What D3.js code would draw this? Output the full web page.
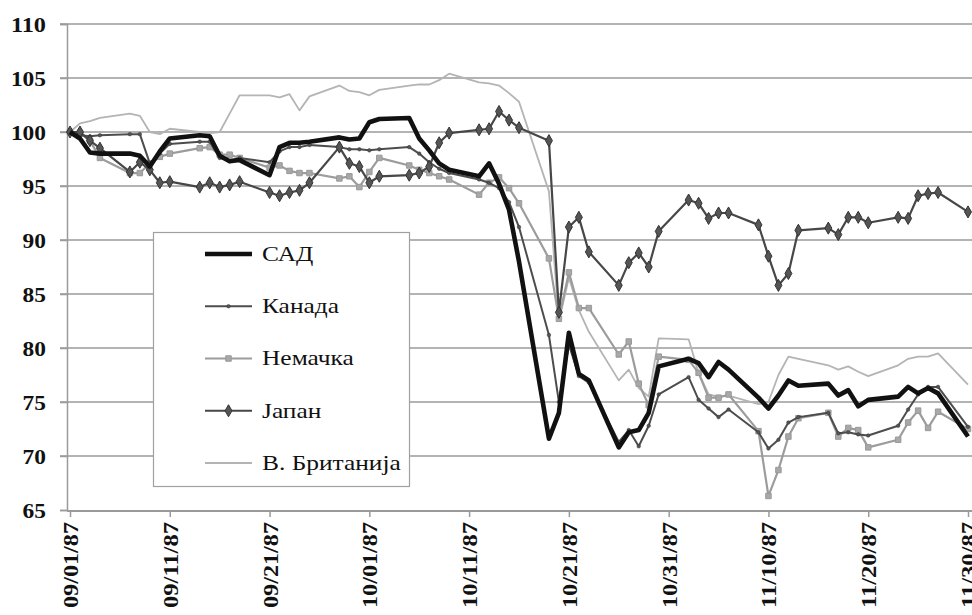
<!DOCTYPE html>
<html>
<head>
<meta charset="utf-8">
<script src="https://cdn.jsdelivr.net/npm/d3@7"></script>
<style>
  html, body { margin: 0; padding: 0; background: #fff; }
  svg { display: block; }
</style>
</head>
<body>
<svg id="chart" width="972" height="615"></svg>
<script>
// Trading days, Sept–Nov 1987
const dates = [
  "09/01","09/02","09/03","09/04","09/07","09/08","09/09","09/10","09/11",
  "09/14","09/15","09/16","09/17","09/18","09/21","09/22","09/23","09/24","09/25",
  "09/28","09/29","09/30",
  "10/01","10/02","10/05","10/06","10/07","10/08","10/09","10/12","10/13","10/14",
  "10/15","10/16","10/19","10/20","10/21","10/22","10/23","10/26","10/27","10/28",
  "10/29","10/30",
  "11/02","11/03","11/04","11/05","11/06","11/09","11/10","11/11","11/12","11/13",
  "11/16","11/17","11/18","11/19","11/20","11/23","11/24","11/25","11/26","11/27","11/30"
];

// Index values (09/01/87 = 100)
const usa = [
  100.0, 99.4, 98.1, 98.0, 98.0, 97.8, 96.8, 98.2, 99.4, 99.7, 99.6, 97.8, 97.3, 97.4, 96.0, 98.6, 99.0, 99.0, 99.1, 99.5, 99.3, 99.4,
  100.9, 101.2, 101.3, 99.4, 98.3, 97.1, 96.5, 95.9, 97.1, 95.2, 92.8, 88.0, 71.6, 74.0, 81.4, 77.6, 77.0, 70.8, 72.2, 72.4, 74.0, 78.3,
  79.0, 78.6, 77.3, 78.7, 78.0, 75.4, 74.4, 75.6, 77.0, 76.5, 76.7, 75.6, 76.1, 74.6, 75.2, 75.5, 76.4, 75.8, 76.3, 75.8, 71.8
];
const canada = [
  100.0, 99.7, 99.6, 99.7, 99.8, 99.8, 97.1, 98.0, 98.9, 99.1, 99.1, 97.6, 97.3, 97.6, 97.2, 98.2, 98.6, 98.6, 98.8, 98.6, 98.4, 98.4,
  98.3, 98.4, 98.6, 98.0, 97.2, 96.6, 96.2, 95.6, 95.3, 94.8, 93.5, 91.2, 81.2, 75.0, 80.3, 77.4, 76.8, 71.3, 72.4, 70.9, 72.8, 75.7,
  77.3, 75.2, 74.4, 73.6, 74.3, 72.2, 70.7, 71.5, 73.1, 73.6, 74.0, 72.1, 72.2, 72.0, 71.9, 72.8, 74.3, 75.7, 76.4, 76.4, 72.7
];
const germany = [
  100.0, 99.9, 99.2, 97.6, 96.2, 96.2, 97.1, 97.7, 98.0, 98.5, 98.6, 97.9, 97.9, 97.6, 96.7, 96.9, 96.4, 96.2, 96.2, 95.7, 95.9, 94.9,
  96.3, 97.6, 96.9, 96.5, 96.2, 95.9, 95.6, 94.2, 95.3, 95.8, 94.8, 93.4, 88.3, 82.7, 87.0, 83.7, 83.7, 79.4, 80.6, 76.7, 74.7, 79.2,
  78.9, 77.7, 75.4, 75.4, 75.7, 72.3, 66.3, 68.7, 71.8, 73.5, 74.0, 71.8, 72.6, 72.4, 70.8, 71.5, 73.1, 74.2, 72.6, 74.1, 72.5
];
const japan = [
  100.0, 100.0, 99.2, 98.5, 96.3, 97.2, 96.5, 95.3, 95.4, 94.9, 95.3, 94.9, 95.1, 95.4, 94.4, 94.1, 94.4, 94.6, 95.3, 98.6, 97.1, 96.8,
  95.3, 95.9, 96.0, 96.2, 96.8, 99.0, 99.9, 100.2, 100.3, 101.9, 101.1, 100.4, 99.2, 83.3, 91.2, 92.1, 88.9, 85.8, 87.9, 88.8, 87.5, 90.8,
  93.7, 93.4, 92.0, 92.5, 92.5, 91.4, 88.5, 85.8, 86.9, 90.9, 91.1, 90.5, 92.1, 92.1, 91.6, 92.1, 92.0, 94.1, 94.3, 94.4, 92.6
];
const uk = [
  100.0, 100.8, 101.0, 101.3, 101.7, 101.5, 100.0, 99.8, 100.3, 100.0, 99.9, 100.0, 101.7, 103.4, 103.4, 103.2, 103.5, 102.0, 103.3, 104.3, 103.8, 103.7,
  103.4, 103.9, 104.3, 104.4, 104.4, 104.8, 105.4, 104.6, 104.5, 104.3, 103.6, 102.8, 94.5, 82.5, 86.5, 83.5, 81.5, 77.0, 78.0, 76.3, 75.5, 80.9,
  80.8, 77.7, 75.7, 75.5, 75.6, 74.8, 75.0, 77.5, 79.2, 79.0, 78.4, 78.0, 78.3, 77.8, 77.4, 78.4, 79.0, 79.2, 79.2, 79.5, 76.6
];

const seriesNames = ["САД", "Канада", "Немачка", "Јапан", "В. Британија"];
const yTicks = [65, 70, 75, 80, 85, 90, 95, 100, 105, 110];
const xTickLabels = ["09/01/87","09/11/87","09/21/87","10/01/87","10/11/87","10/21/87","10/31/87","11/10/87","11/20/87","11/30/87"];

// Line styles per country
const styles = {
  "САД":          { color: "#111111", width: 4.6, marker: null },
  "Канада":       { color: "#4d4d4d", width: 2,   marker: "dot" },
  "Немачка":      { color: "#9c9c9c", width: 2.2, marker: "square" },
  "Јапан":        { color: "#474747", width: 2.2, marker: "diamond" },
  "В. Британија": { color: "#b4b4b4", width: 1.8, marker: null }
};
const valuesByName = {
  "САД": usa, "Канада": canada, "Немачка": germany, "Јапан": japan, "В. Британија": uk
};
// Drawing order: light lines first, heavy lines last
const drawOrder = ["В. Британија", "Немачка", "Канада", "Јапан", "САД"];

const FONT = '"Liberation Serif", "Times New Roman", Tinos, serif';

const parse = d3.timeParse("%m/%d/%y");
const dayParse = s => parse(s + "/87");

const svg = d3.select("#chart");
const W = 972;
const axisLeftX = 67, plotTop = 24, plotBottom = 510;

const x = d3.scaleTime()
  .domain([parse("09/01/87"), parse("11/30/87")])
  .range([70, 968]);
const y = d3.scaleLinear().domain([65, 110]).range([plotBottom, plotTop]);

// Horizontal gridlines
svg.append("g").selectAll("line")
  .data(yTicks.filter(v => v > 65))
  .join("line")
  .attr("x1", 60).attr("x2", W + 20)
  .attr("y1", d => y(d)).attr("y2", d => y(d))
  .attr("stroke", "#b3b3b3").attr("stroke-width", 1.8);

// Y axis: wide, bold serif numerals
const yAxis = svg.append("g")
  .attr("transform", `translate(${axisLeftX},0)`)
  .call(d3.axisLeft(y).tickValues(yTicks).tickSize(7).tickFormat(d3.format("d")));
yAxis.attr("font-family", null);
yAxis.select(".domain").attr("stroke", "#9a9a9a").attr("stroke-width", 1.5);
yAxis.selectAll(".tick line").attr("stroke", "#9a9a9a").attr("stroke-width", 1.5);
yAxis.selectAll("text")
  .style("font-family", FONT).style("font-weight", "bold").style("font-size", "22px")
  .attr("fill", "#111").attr("x", -21)
  .attr("textLength", d => String(d).length * 11.7)
  .attr("lengthAdjust", "spacingAndGlyphs");

// X axis: dates rotated upward
const xAxis = svg.append("g")
  .attr("transform", `translate(0,${plotBottom + 1})`)
  .call(d3.axisBottom(x)
    .tickValues(xTickLabels.map(s => parse(s)))
    .tickSize(6)
    .tickFormat(d3.timeFormat("%m/%d/%y")));
xAxis.attr("font-family", null);
xAxis.select(".domain").attr("stroke", "#9a9a9a").attr("stroke-width", 1.8)
  .attr("d", `M${axisLeftX},0H${W + 20}`);
xAxis.selectAll(".tick line").attr("stroke", "#9a9a9a").attr("stroke-width", 1.5);
xAxis.selectAll("text")
  .style("font-family", FONT).style("font-weight", "bold").style("font-size", "22px")
  .attr("fill", "#111")
  .attr("text-anchor", "end")
  .attr("dy", "0.34em")
  .attr("textLength", 86).attr("lengthAdjust", "spacingAndGlyphs")
  .attr("transform", "translate(0,11) rotate(-90)")
  .attr("x", 0).attr("y", 0);

// Lines and markers
const plot = svg.append("g");
const sym = {
  square: d3.symbol().type(d3.symbolSquare).size(30),
  dot: d3.symbol().type(d3.symbolCircle).size(10),
  diamond: d3.symbol().type(d3.symbolDiamond).size(42)
};
const markerFill = m => m === "square" ? "#a8a8a8" : "#555";
const markerStroke = m => m === "square" ? "#999" : "#333";

drawOrder.forEach(name => {
  const s = styles[name];
  const pts = dates.map((d, i) => ({ date: dayParse(d), v: valuesByName[name][i] }))
    .filter(p => p.v != null);
  const line = d3.line().x(p => x(p.date)).y(p => y(p.v));
  plot.append("path")
    .datum(pts)
    .attr("d", line)
    .attr("fill", "none")
    .attr("stroke", s.color)
    .attr("stroke-width", s.width)
    .attr("stroke-linejoin", "round");
  if (s.marker) {
    plot.append("g").selectAll("path")
      .data(pts)
      .join("path")
      .attr("transform", p => `translate(${x(p.date)},${y(p.v)})`)
      .attr("d", sym[s.marker]())
      .attr("fill", markerFill(s.marker))
      .attr("stroke", markerStroke(s.marker))
      .attr("stroke-width", s.marker === "dot" ? 0.5 : 1);
  }
});

// Legend
const legend = svg.append("g");
legend.append("rect")
  .attr("x", 153.5).attr("y", 232.5).attr("width", 256).attr("height", 254)
  .attr("fill", "#fff").attr("stroke", "#a0a0a0").attr("stroke-width", 1.2);

const rowY = d3.scalePoint().domain(seriesNames).range([254, 463]);
const legendStretch = 1.21;

seriesNames.forEach(name => {
  const it = styles[name];
  const g = legend.append("g").attr("transform", `translate(0,${rowY(name)})`);
  g.append("line")
    .attr("x1", 205).attr("x2", 252).attr("y1", 0).attr("y2", 0)
    .attr("stroke", it.color).attr("stroke-width", it.width);
  if (it.marker) {
    g.append("path")
      .attr("transform", "translate(228.5,0)")
      .attr("d", sym[it.marker]())
      .attr("fill", markerFill(it.marker))
      .attr("stroke", markerStroke(it.marker))
      .attr("stroke-width", it.marker === "dot" ? 0.5 : 1);
  }
  const t = g.append("text")
    .attr("x", 262).attr("y", 0).attr("dy", "0.33em")
    .style("font-family", FONT).style("font-size", "21px")
    .attr("fill", "#111")
    .text(name);
  const natural = t.node().getComputedTextLength();
  t.attr("textLength", natural * legendStretch).attr("lengthAdjust", "spacingAndGlyphs");
});
</script>
</body>
</html>
